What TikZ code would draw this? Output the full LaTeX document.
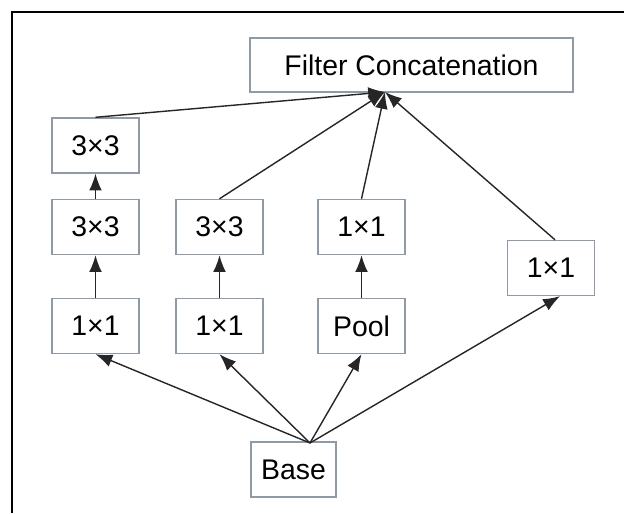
\documentclass[tikz,border=0pt]{standalone}
\usepackage{fontspec}
\setmainfont{Liberation Sans}
\usetikzlibrary{arrows.meta}
\definecolor{boxgray}{HTML}{8E9BA6}

\begin{document}
\begin{tikzpicture}[
        layer/.style={draw=boxgray, line width=1pt, minimum width=2.175cm, minimum height=1.375cm, inner sep=0pt, font=\fontsize{20.2}{24}\selectfont},
        flow/.style={-{Latex[length=0.42cm,width=0.32cm]}, line width=1pt, draw=black!85}
    ]
        \useasboundingbox (0,0) rectangle (15.6,12.825);
        \draw[line width=1pt] (0.3,0) -- (0.3,12.525) -- (15.6,12.525);
        % output
        \node[layer, minimum width=8.075cm, minimum height=1.35cm] (concat) at (10.2875, 11.2) {Filter Concatenation};
        % branches
        \node[layer] (l3) at (2.3875, 9.1875) {3×3};
        \node[layer] (l2) at (2.3875, 7.15) {3×3};
        \node[layer] (l1) at (2.3875, 4.675) {1×1};
        \node[layer] (m2) at (5.4875, 7.15) {3×3};
        \node[layer] (m1) at (5.4875, 4.675) {1×1};
        \node[layer] (p2) at (9.0375, 7.15) {1×1};
        \node[layer] (pool) at (9.0375, 4.675) {Pool};
        \node[layer] (r) at (13.775, 6.125) {1×1};
        % input
        \node[layer, minimum width=2.125cm] (base) at (7.3375, 1.0875) {Base};
        \coordinate (b0) at (7.75, 1.75);
        \coordinate (c0) at (9.625, 10.525);
        \draw[flow] (b0) -- (l1.south);
        \draw[flow] (b0) -- (m1.south);
        \draw[flow] (b0) -- (pool.south);
        \draw[flow] (b0) -- ([xshift=0.225cm]r.south);
        \draw[flow] (l1) -- (l2);
        \draw[flow] (l2) -- (l3);
        \draw[flow] (m1) -- (m2);
        \draw[flow] (pool) -- (p2);
        \draw[flow] (l3.north) -- (c0);
        \draw[flow] (m2.north) -- (c0);
        \draw[flow] (p2.north) -- (c0);
        \draw[flow] ([xshift=0.1cm]r.north) -- (c0);
    \end{tikzpicture}
\end{document}
